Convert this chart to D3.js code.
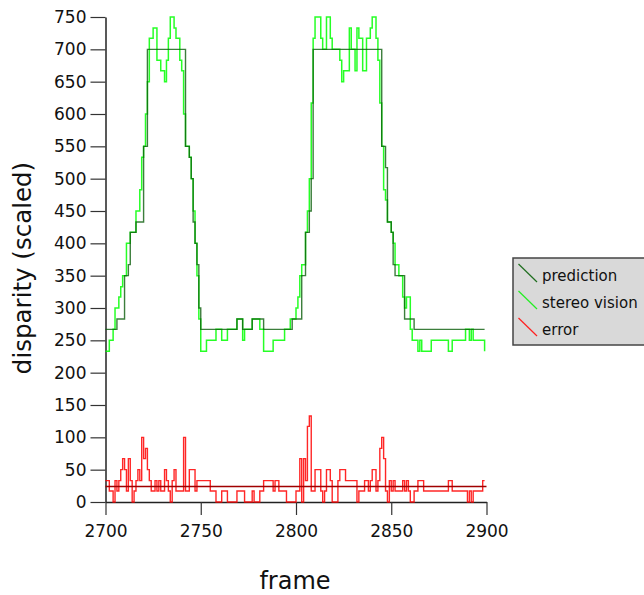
<!DOCTYPE html>
<html>
<head>
<meta charset="utf-8">
<script src="https://cdn.jsdelivr.net/npm/d3@7"></script>
<style>
  body { margin: 0; background: #fff; }
  text { font-family: "DejaVu Sans", sans-serif; fill: #111; }
</style>
</head>
<body>
<svg id="chart" width="644" height="595"></svg>
<script>
// step data: [frame, value], each value holds until the next frame
let prediction = [
  [2700, 267], [2706, 283], [2710, 350], [2712, 367], [2713, 417], [2716, 433],
  [2720, 550], [2722, 700], [2742, 550], [2744, 533], [2745, 500], [2746, 433],
  [2747, 400], [2748, 367], [2749, 300], [2750, 267], [2769, 283], [2772, 267],
  [2777, 283], [2783, 267], [2798, 283], [2803, 350], [2805, 417], [2807, 450],
  [2808, 500], [2809, 700], [2845, 550], [2847, 517], [2848, 433], [2850, 417],
  [2851, 367], [2852, 350], [2857, 283], [2862, 267], [2899, 267]
];

let stereo = [
  [2700, 233], [2702, 250], [2704, 267], [2705, 300], [2707, 317], [2708, 333],
  [2709, 350], [2711, 400], [2713, 417], [2716, 450], [2718, 483], [2719, 533],
  [2720, 550], [2721, 600], [2722, 650], [2723, 717], [2725, 733], [2727, 683],
  [2729, 667], [2731, 650], [2732, 683], [2733, 717], [2734, 750], [2736, 733],
  [2737, 717], [2739, 683], [2740, 667], [2741, 600], [2742, 550], [2744, 533],
  [2745, 500], [2746, 450], [2747, 400], [2748, 350], [2749, 283], [2750, 233],
  [2753, 250], [2758, 267], [2761, 250], [2764, 267], [2769, 283], [2772, 250],
  [2773, 267], [2777, 283], [2781, 267], [2783, 233], [2788, 250], [2794, 267],
  [2797, 283], [2800, 300], [2801, 317], [2802, 350], [2803, 367], [2805, 417],
  [2806, 450], [2807, 500], [2808, 617], [2809, 717], [2810, 750], [2813, 717],
  [2814, 700], [2816, 750], [2818, 717], [2819, 700], [2823, 683], [2824, 650],
  [2825, 667], [2828, 733], [2829, 700], [2831, 667], [2832, 733], [2833, 717],
  [2835, 667], [2837, 717], [2839, 733], [2840, 750], [2842, 717], [2843, 683],
  [2844, 617], [2845, 550], [2846, 483], [2847, 467], [2848, 433], [2850, 417],
  [2851, 400], [2852, 367], [2854, 350], [2856, 317], [2857, 300], [2858, 317],
  [2860, 267], [2861, 250], [2864, 233], [2865, 250], [2866, 233], [2871, 250],
  [2880, 233], [2882, 250], [2889, 267], [2891, 250], [2892, 267], [2893, 250],
  [2899, 233]
];

let error = [
  [2700, 33], [2702, 17], [2704, 0], [2705, 33], [2706, 17], [2707, 33],
  [2708, 50], [2709, 67], [2710, 50], [2711, 17], [2712, 67], [2713, 33],
  [2714, 0], [2715, 17], [2716, 33], [2717, 50], [2718, 33], [2719, 100],
  [2720, 67], [2721, 83], [2722, 50], [2723, 33], [2724, 17], [2726, 33],
  [2727, 17], [2728, 33], [2729, 17], [2731, 50], [2732, 33], [2733, 17],
  [2734, 0], [2735, 33], [2736, 50], [2737, 17], [2741, 100], [2742, 17],
  [2744, 50], [2747, 17], [2748, 33], [2755, 17], [2758, 0], [2761, 17],
  [2764, 0], [2769, 17], [2773, 0], [2777, 17], [2778, 0], [2781, 17],
  [2783, 33], [2788, 17], [2789, 33], [2791, 17], [2795, 0], [2800, 17],
  [2802, 67], [2803, 0], [2804, 67], [2805, 33], [2806, 117], [2807, 133],
  [2808, 17], [2810, 50], [2813, 17], [2814, 0], [2815, 17], [2816, 50],
  [2818, 33], [2819, 0], [2822, 33], [2823, 50], [2826, 33], [2832, 0],
  [2833, 17], [2836, 33], [2838, 17], [2839, 33], [2840, 50], [2842, 17],
  [2843, 33], [2844, 83], [2845, 100], [2846, 67], [2847, 17], [2848, 0],
  [2849, 33], [2850, 17], [2851, 33], [2852, 17], [2856, 33], [2857, 17],
  [2858, 33], [2859, 17], [2860, 0], [2862, 17], [2864, 33], [2867, 17],
  [2880, 33], [2882, 17], [2890, 0], [2891, 17], [2892, 0], [2893, 17],
  [2898, 33], [2899, 33]
];

let errorMean = 24;

let xTicks = [2700, 2750, 2800, 2850, 2900];
let yTicks = [0, 50, 100, 150, 200, 250, 300, 350, 400, 450, 500, 550, 600, 650, 700, 750];

let legendItems = [
  { name: 'prediction', color: '#1f6e1f' },
  { name: 'stereo vision', color: '#22ee22' },
  { name: 'error', color: '#ff2020' }
];

let svg = d3.select('#chart');

let x = d3.scaleLinear().domain([2700, 2900]).range([105.5, 486.5]);
let y = d3.scaleLinear().domain([0, 750]).range([502, 17]);

// axes
let xAxis = svg.append('g')
  .attr('transform', 'translate(0,502)')
  .call(d3.axisBottom(x).tickValues(xTicks).tickFormat(d3.format('d'))
    .tickSize(13).tickPadding(10).tickSizeOuter(0));

let yAxis = svg.append('g')
  .attr('transform', 'translate(105.5,0)')
  .call(d3.axisLeft(y).tickValues(yTicks).tickFormat(d3.format('d'))
    .tickSize(15).tickPadding(4).tickSizeOuter(0));

[xAxis, yAxis].forEach(function(a) {
  a.select('.domain').attr('stroke', '#222').attr('stroke-width', 1.5);
  a.selectAll('.tick line').attr('stroke', '#333').attr('stroke-width', 1.2);
  a.selectAll('.tick text')
    .attr('font-family', '"DejaVu Sans", sans-serif')
    .attr('font-size', 17)
    .attr('fill', '#111');
});

// axis titles
svg.append('text')
  .attr('x', 295)
  .attr('y', 589)
  .attr('text-anchor', 'middle')
  .attr('font-size', 24)
  .text('frame');

svg.append('text')
  .attr('transform', 'translate(31,268) rotate(-90)')
  .attr('text-anchor', 'middle')
  .attr('font-size', 24.5)
  .text('disparity (scaled)');

// series
let line = d3.line()
  .x(function(d) { return x(d[0]); })
  .y(function(d) { return y(d[1]); })
  .curve(d3.curveStepAfter);

function drawSeries(data, color, width, opacity) {
  svg.append('path')
    .datum(data)
    .attr('fill', 'none')
    .attr('stroke', color)
    .attr('stroke-width', width)
    .attr('stroke-opacity', opacity)
    .attr('d', line);
}

drawSeries(stereo, '#00ff00', 1.5, 0.85);
drawSeries(prediction, '#0b5e0b', 1.4, 0.8);
drawSeries(error, '#ff0000', 1.4, 0.85);

svg.append('line')
  .attr('x1', x(2700))
  .attr('x2', x(2900))
  .attr('y1', y(errorMean))
  .attr('y2', y(errorMean))
  .attr('stroke', '#a00000')
  .attr('stroke-width', 1.5);

// legend
let legend = svg.append('g').attr('transform', 'translate(513,258)');

legend.append('rect')
  .attr('width', 140)
  .attr('height', 87)
  .attr('fill', '#d9d9d9')
  .attr('stroke', '#444')
  .attr('stroke-width', 1.5);

let item = legend.selectAll('g.item')
  .data(legendItems)
  .enter().append('g')
  .attr('class', 'item')
  .attr('transform', function(d, i) { return 'translate(0,' + (i * 27) + ')'; });

item.append('line')
  .attr('x1', 5.5).attr('y1', 6)
  .attr('x2', 24).attr('y2', 24)
  .attr('stroke', function(d) { return d.color; })
  .attr('stroke-width', 1.2);

item.append('text')
  .attr('x', 29)
  .attr('y', 22.5)
  .attr('font-size', 15)
  .text(function(d) { return d.name; });
</script>
</body>
</html>
